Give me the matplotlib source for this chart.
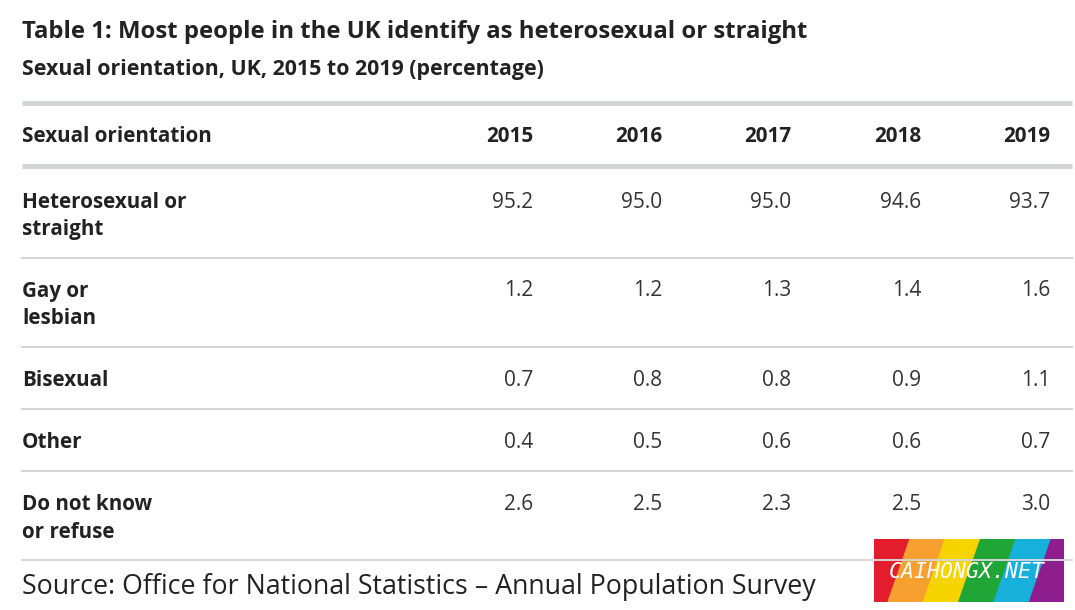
import matplotlib
matplotlib.use("Agg")
import matplotlib.pyplot as plt
from matplotlib.patches import Polygon

# -------------------------
# data
# -------------------------
years = ["2015", "2016", "2017", "2018", "2019"]
categories = [["Heterosexual or", "straight"], ["Gay or", "lesbian"], ["Bisexual"],
              ["Other"], ["Do not know", "or refuse"]]
heterosexual = [95.2, 95.0, 95.0, 94.6, 93.7]
gay_lesbian = [1.2, 1.2, 1.3, 1.4, 1.6]
bisexual = [0.7, 0.8, 0.8, 0.9, 1.1]
other = [0.4, 0.5, 0.6, 0.6, 0.7]
dont_know = [2.6, 2.5, 2.3, 2.5, 3.0]
rows = [heterosexual, gay_lesbian, bisexual, other, dont_know]

title = "Table 1: Most people in the UK identify as heterosexual or straight"
subtitle = "Sexual orientation, UK, 2015 to 2019 (percentage)"
source = "Source: Office for National Statistics \u2013 Annual Population Survey"

# -------------------------
# layout (pixels)
# -------------------------
W, H = 1075, 610
LEFT, RIGHT = 22, 1072
col_x = [533, 662, 791, 921, 1050]
row_top = [202, 291, 381, 443, 505]
line_gap = 27
sep_y = [258, 347, 409, 471, 560]

TEXT = "#222222"
RULE = "#d3d5d6"
FONT = ["Open Sans", "DejaVu Sans"]

plt.rcParams["font.family"] = FONT

fig = plt.figure(figsize=(W / 100, H / 100), dpi=100)
ax = fig.add_axes([0, 0, 1, 1])
ax.set_xlim(0, W)
ax.set_ylim(H, 0)
ax.axis("off")

ax.text(LEFT, 32, title, fontsize=17.2, fontweight="bold", color=TEXT, va="center")
ax.text(LEFT, 70, subtitle, fontsize=15.4, fontweight="bold", color=TEXT, va="center")

# thick header rules
for y in (103, 166):
    ax.plot([LEFT, RIGHT], [y, y], color=RULE, lw=3.6, solid_capstyle="butt")

ax.text(LEFT, 137, "Sexual orientation", fontsize=14.9, fontweight="bold",
        color=TEXT, va="center")
for x, yr in zip(col_x, years):
    ax.text(x, 137, yr, fontsize=14.9, fontweight="bold", color=TEXT,
            va="center", ha="right")

for lines, vals, top, sep in zip(categories, rows, row_top, sep_y):
    for i, line in enumerate(lines):
        ax.text(LEFT, top + i * line_gap, line, fontsize=14.9, fontweight="bold",
                color=TEXT, va="center")
    for x, v in zip(col_x, vals):
        ax.text(x, top, f"{v:.1f}", fontsize=15, color="#333333",
                va="center", ha="right")
    ax.plot([LEFT, RIGHT], [sep, sep], color=RULE, lw=1.4)

ax.text(LEFT, 587, source, fontsize=19.3, color=TEXT, va="center")

# rainbow badge (bottom right)
bx0, by0, bw, bh = 874, 539, 190, 63
stripe_cols = ["#e31d2b", "#f7a030", "#f5d400", "#1fa637", "#17b0da", "#8e1e8e"]
slant = 22
sw = (bw + slant) / 6
clamp = lambda x: min(max(x, bx0), bx0 + bw)
for i, c in enumerate(stripe_cols):
    x0 = bx0 - slant + i * sw
    pts = [[x0, by0 + bh], [x0 + slant, by0], [x0 + slant + sw + 0.8, by0],
           [x0 + sw + 0.8, by0 + bh]]
    pts = [[clamp(px), py] for px, py in pts]
    ax.add_patch(Polygon(pts, closed=True, color=c, lw=0))
ax.text(bx0 + bw / 2 - 2, by0 + bh / 2 + 2, "CAIHONGX.NET", fontsize=15.5,
        color="white", style="italic", family=["DejaVu Sans Mono", "DejaVu Sans"],
        ha="center", va="center")

fig.savefig("out.png", dpi=100, facecolor="white")
